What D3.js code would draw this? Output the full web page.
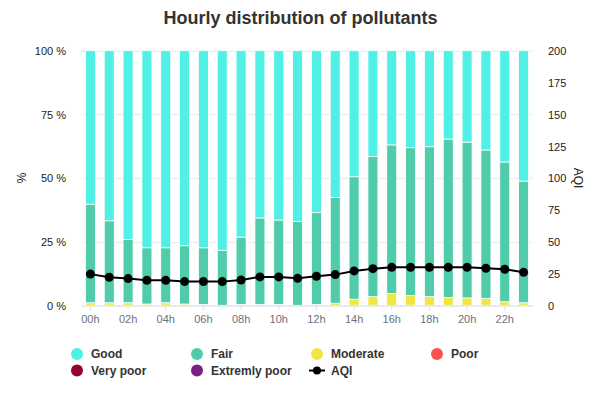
<!DOCTYPE html>
<html>
<head>
<meta charset="utf-8">
<script src="https://cdn.jsdelivr.net/npm/d3@7"></script>
<style>
  body { margin: 0; background: #fff; }
  svg { font-family: "Liberation Sans", Arial, sans-serif; }
</style>
</head>
<body>
<svg id="chart" width="601" height="399"></svg>
<script>
// hours on the x axis
var hours = ["00h","01h","02h","03h","04h","05h","06h","07h","08h","09h","10h","11h",
  "12h","13h","14h","15h","16h","17h","18h","19h","20h","21h","22h","23h"];

// share of each class, in %
var good = [60.3,66.8,74.1,77.4,77.4,76.6,77.4,78.4,73.2,65.7,66.5,67.1,
  63.6,57.7,49.5,41.6,37.0,38.1,37.7,34.7,35.9,39.0,43.7,51.2];
var fair = [38.7,32.2,24.9,22.1,21.6,22.9,22.3,21.6,26.5,34.0,33.2,32.9,
  36.1,41.5,48.1,55.0,58.4,58.1,58.9,62.2,61.2,58.3,54.9,47.8];
var moderate = [1.0,1.0,1.0,0.5,1.0,0.5,0.3,0,0.3,0.3,0.3,0,
  0.3,0.8,2.4,3.4,4.6,3.8,3.4,3.1,2.9,2.7,1.4,1.0];
var poor = [0,0,0,0,0,0,0,0,0,0,0,0,0,0,0,0,0,0,0,0,0,0,0,0];
var veryPoor = [0,0,0,0,0,0,0,0,0,0,0,0,0,0,0,0,0,0,0,0,0,0,0,0];
var extremlyPoor = [0,0,0,0,0,0,0,0,0,0,0,0,0,0,0,0,0,0,0,0,0,0,0,0];

// AQI line, right axis
var aqi = [24.5,22.0,21.0,19.6,19.6,18.6,18.6,18.6,19.9,22.3,22.3,21.2,
  22.8,24.1,27.0,28.8,29.8,29.8,29.8,29.8,29.8,29.1,28.3,25.9];

var pctTicks = [0, 25, 50, 75, 100];
var aqiTicks = [0, 25, 50, 75, 100, 125, 150, 175, 200];

var seriesNames = ["Good","Fair","Moderate","Poor","Very poor","Extremly poor"];
var seriesColors = ["#50f0e6","#50ccaa","#f0e641","#ff5050","#960032","#7d2181"];

var svg = d3.select("#chart");
var margin = {top: 51, right: 68, bottom: 94, left: 81};
var W = 601, H = 399;
var x0 = margin.left, x1 = W - margin.right;
var y0 = H - margin.bottom, y1 = margin.top;

var xScale = d3.scaleBand().domain(hours).range([x0, x1]);
var yScale = d3.scaleLinear().domain([0, 100]).range([y0 + 0.3, y1 - 0.3]);
var aqiScale = d3.scaleLinear().domain([0, 200]).range([y0 + 0.3, y1 - 0.3]);
var barW = 10;
var cx = function(h) { return xScale(h) + xScale.bandwidth() / 2; };

// title
svg.append("text")
  .attr("x", W / 2).attr("y", 24)
  .attr("text-anchor", "middle")
  .style("font-size", "18px").style("font-weight", "bold")
  .style("fill", "#333")
  .text("Hourly distribution of pollutants");

// grid lines
svg.append("g").selectAll("line")
  .data(pctTicks.slice(1))
  .join("line")
  .attr("x1", x0).attr("x2", x1)
  .attr("y1", function(d) { return Math.round(yScale(d)) + 0.5; })
  .attr("y2", function(d) { return Math.round(yScale(d)) + 0.5; })
  .style("stroke", "#eeeeee").style("stroke-width", 1.5);

// left axis
var leftAxis = svg.append("g")
  .attr("transform", "translate(" + (x0 - 15) + ",0)")
  .call(d3.axisLeft(yScale).tickValues(pctTicks).tickSize(0).tickPadding(0)
    .tickFormat(function(d) { return d + " %"; }));
leftAxis.select(".domain").remove();
leftAxis.selectAll("text").style("font-size", "11px").style("fill", "#222")
  .attr("dy", "0.35em");

// right axis
var rightAxis = svg.append("g")
  .attr("transform", "translate(" + (x1 + 15) + ",0)")
  .call(d3.axisRight(aqiScale).tickValues(aqiTicks).tickSize(0).tickPadding(0));
rightAxis.select(".domain").remove();
rightAxis.selectAll("text").style("font-size", "11px").style("fill", "#222")
  .attr("dy", "0.35em");

// axis titles
svg.append("text")
  .attr("transform", "translate(26," + ((y0 + y1) / 2) + ") rotate(-90)")
  .attr("text-anchor", "middle")
  .style("font-size", "12px").style("fill", "#222")
  .text("%");
svg.append("text")
  .attr("transform", "translate(574," + ((y0 + y1) / 2) + ") rotate(90)")
  .attr("text-anchor", "middle")
  .style("font-size", "12px").style("fill", "#222")
  .text("AQI");

// stacked bars
var rows = hours.map(function(h, i) {
  return {hour: h, Good: good[i], Fair: fair[i], Moderate: moderate[i],
    Poor: poor[i], "Very poor": veryPoor[i], "Extremly poor": extremlyPoor[i]};
});
var order = ["Moderate","Fair","Good","Poor","Very poor","Extremly poor"];
var stack = d3.stack().keys(order)(rows);

svg.append("g").selectAll("g")
  .data(stack)
  .join("g")
  .style("fill", function(d) { return seriesColors[seriesNames.indexOf(d.key)]; })
  .selectAll("rect")
  .data(function(d) { return d.filter(function(p) { return p[1] - p[0] > 0; }); })
  .join("rect")
  .attr("x", function(d) { return cx(d.data.hour) - barW / 2; })
  .attr("width", barW)
  .attr("y", function(d) { return yScale(d[1]); })
  .attr("height", function(d) { return yScale(d[0]) - yScale(d[1]); })
  .style("stroke", "#fff").style("stroke-width", 0.8);

// bottom axis
var xAxis = svg.append("g")
  .attr("transform", "translate(0," + (y0 + 0.5) + ")")
  .call(d3.axisBottom(xScale)
    .tickValues(hours.filter(function(d, i) { return i % 2 === 0; }))
    .tickSize(5).tickSizeOuter(0).tickPadding(5));
xAxis.select(".domain").style("stroke", "#dde3ef").style("stroke-width", 1.5);
xAxis.selectAll(".tick line").style("stroke", "#dde3ef");
xAxis.selectAll("text").style("font-size", "11px").style("fill", "#6e7079");

// AQI line
var aqiLine = d3.line()
  .x(function(d, i) { return cx(hours[i]); })
  .y(function(d) { return aqiScale(d); });

svg.append("path")
  .datum(aqi)
  .attr("d", aqiLine)
  .style("fill", "none").style("stroke", "#000").style("stroke-width", 2);

svg.append("g").selectAll("circle")
  .data(aqi)
  .join("circle")
  .attr("cx", function(d, i) { return cx(hours[i]); })
  .attr("cy", function(d) { return aqiScale(d); })
  .attr("r", 4.5)
  .style("fill", "#000");

// legend
var legendItems = seriesNames.concat(["AQI"]);
var legend = svg.append("g").selectAll("g")
  .data(legendItems)
  .join("g")
  .attr("transform", function(d, i) {
    return "translate(" + (77 + (i % 4) * 120) + "," + (354 + Math.floor(i / 4) * 16.5) + ")";
  });

legend.each(function(d, i) {
  var g = d3.select(this);
  if (d === "AQI") {
    g.append("line").attr("x1", -8).attr("x2", 8)
      .style("stroke", "#000").style("stroke-width", 2);
    g.append("circle").attr("r", 4).style("fill", "#000");
  } else {
    g.append("circle").attr("r", 6).style("fill", seriesColors[i]);
  }
  g.append("text")
    .attr("x", 14).attr("dy", "0.36em")
    .style("font-size", "12px").style("font-weight", "bold")
    .style("fill", "#333")
    .text(d);
});
</script>
</body>
</html>
